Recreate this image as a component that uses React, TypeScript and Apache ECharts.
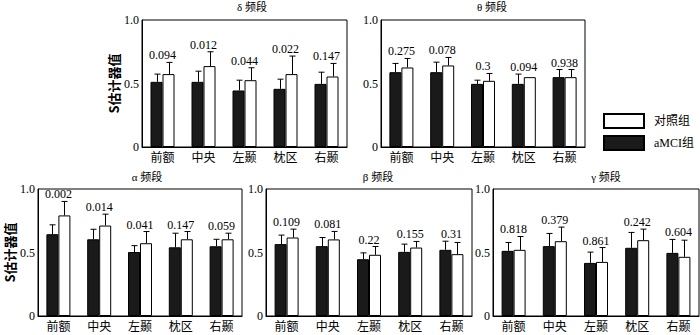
import React, { useEffect, useRef } from "react";
import * as echarts from "echarts";

const categories = ["前额", "中央", "左颞", "枕区", "右颞"];
const bandTitles = ["δ 频段", "θ 频段", "α 频段", "β 频段", "γ 频段"];
const yTicks = ["0", "0.5", "1.0"];

// aMCI group (black) means and SD
const deltaAMCI = [0.513, 0.513, 0.445, 0.458, 0.497];
const deltaAMCISd = [0.061, 0.084, 0.081, 0.076, 0.092];
const deltaCtrl = [0.574, 0.637, 0.526, 0.574, 0.555];
const deltaCtrlSd = [0.092, 0.113, 0.098, 0.142, 0.103];
const deltaP = ["0.094", "0.012", "0.044", "0.022", "0.147"];

const thetaAMCI = [0.589, 0.589, 0.497, 0.497, 0.55];
const thetaAMCISd = [0.069, 0.079, 0.029, 0.077, 0.06];
const thetaCtrl = [0.626, 0.642, 0.521, 0.55, 0.55];
const thetaCtrlSd = [0.071, 0.063, 0.058, 0, 0.06];
const thetaP = ["0.275", "0.078", "0.3", "0.094", "0.938"];

const alphaAMCI = [0.644, 0.604, 0.504, 0.541, 0.549];
const alphaAMCISd = [0.074, 0.079, 0.05, 0.111, 0.055];
const alphaCtrl = [0.792, 0.712, 0.573, 0.604, 0.604];
const alphaCtrlSd = [0.11, 0.09, 0.092, 0.061, 0.048];
const alphaP = ["0.002", "0.014", "0.041", "0.147", "0.059"];

const betaAMCI = [0.566, 0.55, 0.447, 0.505, 0.521];
const betaAMCISd = [0.071, 0.068, 0.05, 0.061, 0.068];
const betaCtrl = [0.618, 0.603, 0.482, 0.539, 0.487];
const betaCtrlSd = [0.066, 0.063, 0.065, 0.048, 0.092];
const betaP = ["0.109", "0.081", "0.22", "0.155", "0.31"];

const gammaAMCI = [0.513, 0.55, 0.418, 0.537, 0.497];
const gammaAMCISd = [0.066, 0.1, 0.085, 0.121, 0.106];
const gammaCtrl = [0.521, 0.589, 0.426, 0.597, 0.466];
const gammaCtrlSd = [0.105, 0.111, 0.113, 0.087, 0.131];
const gammaP = ["0.818", "0.379", "0.861", "0.242", "0.604"];

const FONT = "'Liberation Serif', 'Noto Sans CJK SC', serif";

const panels = [
  { a: deltaAMCI, as: deltaAMCISd, c: deltaCtrl, cs: deltaCtrlSd, p: deltaP },
  { a: thetaAMCI, as: thetaAMCISd, c: thetaCtrl, cs: thetaCtrlSd, p: thetaP },
  { a: alphaAMCI, as: alphaAMCISd, c: alphaCtrl, cs: alphaCtrlSd, p: alphaP },
  { a: betaAMCI, as: betaAMCISd, c: betaCtrl, cs: betaCtrlSd, p: betaP },
  { a: gammaAMCI, as: gammaAMCISd, c: gammaCtrl, cs: gammaCtrlSd, p: gammaP },
];

const layout = [
  { left: 142, top: 20, width: 205, height: 127, titleX: 252, titleY: 1, yName: true, nameGap: 22 },
  { left: 381, top: 20, width: 204, height: 127, titleX: 492, titleY: 1, yName: false, nameGap: 22 },
  { left: 38, top: 189, width: 204, height: 127, titleX: 147, titleY: 171, yName: true, nameGap: 21 },
  { left: 266, top: 189, width: 206, height: 127, titleX: 378, titleY: 171, yName: false, nameGap: 22 },
  { left: 493, top: 189, width: 206, height: 127, titleX: 606, titleY: 171, yName: false, nameGap: 22 },
];

const BAR_W = 12;

function errSeries(gi: number, means: number[], sds: number[], off: number) {
  return {
    type: "custom",
    xAxisIndex: gi,
    yAxisIndex: gi,
    z: 5,
    silent: true,
    data: means.map((m, i) => [i, m, m + sds[i]]),
    renderItem: (params: any, api: any) => {
      const i = api.value(0);
      const p0 = api.coord([i, api.value(1)]);
      const p1 = api.coord([i, api.value(2)]);
      if (Math.abs(p0[1] - p1[1]) < 0.5) return { type: "group", children: [] };
      const x = Math.round(p0[0] + off) + 0.5;
      return {
        type: "group",
        children: [
          { type: "line", shape: { x1: x, y1: p0[1], x2: x, y2: p1[1] }, style: { stroke: "#000", lineWidth: 1 } },
          { type: "line", shape: { x1: x - 3, y1: p1[1], x2: x + 3, y2: p1[1] }, style: { stroke: "#000", lineWidth: 1 } },
        ],
      };
    },
  };
}

function labelSeries(gi: number, pn: any) {
  return {
    type: "custom",
    xAxisIndex: gi,
    yAxisIndex: gi,
    z: 6,
    silent: true,
    data: pn.p.map((t: string, i: number) => [i, Math.max(pn.a[i] + pn.as[i], pn.c[i] + pn.cs[i]), t]),
    renderItem: (params: any, api: any) => {
      const i = api.value(0);
      const pt = api.coord([i, api.value(1)]);
      return {
        type: "text",
        x: pt[0],
        y: pt[1] - 1,
        style: {
          text: pn.p[i],
          align: "center",
          verticalAlign: "bottom",
          fontSize: 12,
          fontFamily: FONT,
          fill: "#000",
        },
      };
    },
  };
}

export default function App() {
  const ref = useRef<HTMLDivElement>(null);
  useEffect(() => {
    document.body.style.margin = "0";
    const chart = echarts.init(ref.current!, null, { renderer: "svg" });
    const grids: any[] = [];
    const xAxes: any[] = [];
    const yAxes: any[] = [];
    const series: any[] = [];
    const titles: any[] = [];
    panels.forEach((pn, gi) => {
      const L = layout[gi];
      grids.push({ left: L.left, top: L.top, width: L.width, height: L.height, show: true, borderColor: "#000", borderWidth: 1, backgroundColor: "transparent" });
      xAxes.push({
        type: "category",
        gridIndex: gi,
        data: categories,
        axisLine: { show: true, lineStyle: { color: "#000", width: 1 } },
        axisTick: { show: false },
        axisLabel: { color: "#000", fontSize: 12, fontFamily: FONT, margin: 5 },
      });
      yAxes.push({
        type: "value",
        gridIndex: gi,
        min: 0,
        max: 1,
        interval: 0.5,
        splitLine: { show: false },
        axisLine: { show: true, lineStyle: { color: "#000", width: 1 } },
        axisTick: { show: false },
        axisLabel: {
          color: "#000",
          fontSize: 12,
          fontFamily: FONT,
          margin: 3,
          formatter: (v: number) => (v === 0 ? yTicks[0] : v === 0.5 ? yTicks[1] : yTicks[2]),
        },
        name: L.yName ? "S估计器值" : "",
        nameLocation: "middle",
        nameGap: L.nameGap,
        nameRotate: 90,
        nameTextStyle: { color: "#000", fontSize: 13, fontWeight: "bold", fontFamily: "'Noto Sans CJK SC', sans-serif" },
      });
      titles.push({
        text: bandTitles[gi],
        left: L.titleX,
        top: L.titleY,
        textAlign: "center",
        padding: 0,
        textStyle: { fontSize: 11, fontWeight: "normal", color: "#000", fontFamily: FONT },
      });
      series.push({
        name: "aMCI组",
        type: "bar",
        xAxisIndex: gi,
        yAxisIndex: gi,
        data: pn.a,
        barWidth: BAR_W,
        barGap: "0%",
        itemStyle: { color: "#1a1a1a", borderColor: "#000", borderWidth: 1 },
      });
      series.push({
        name: "对照组",
        type: "bar",
        xAxisIndex: gi,
        yAxisIndex: gi,
        data: pn.c,
        barWidth: BAR_W,
        barGap: "0%",
        itemStyle: { color: "#fff", borderColor: "#000", borderWidth: 1 },
      });
      series.push(errSeries(gi, pn.a, pn.as, -BAR_W / 2));
      series.push(errSeries(gi, pn.c, pn.cs, BAR_W / 2));
      series.push(labelSeries(gi, pn));
    });
    chart.setOption({
      animation: false,
      backgroundColor: "#fff",
      title: titles,
      grid: grids,
      xAxis: xAxes,
      yAxis: yAxes,
      series,
      legend: {
        orient: "vertical",
        left: 603,
        top: 113,
        padding: 0,
        itemWidth: 40,
        itemHeight: 14,
        itemGap: 6,
        icon: "rect",
        data: ["对照组", "aMCI组"],
        textStyle: { color: "#000", fontSize: 12, fontFamily: FONT, padding: [0, 0, 0, 5] },
      },
    });
    return () => chart.dispose();
  }, []);
  return <div ref={ref} style={{ width: 700, height: 335 }} />;
}
